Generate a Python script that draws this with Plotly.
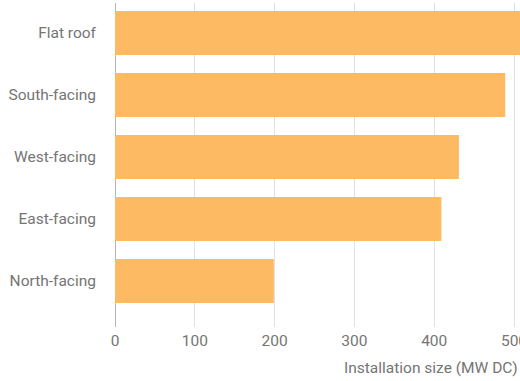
import plotly.graph_objects as go

categories = ["Flat roof", "South-facing", "West-facing", "East-facing", "North-facing"]
values = [530, 489, 431, 409, 199]
x_ticks = [0, 100, 200, 300, 400, 500]

fig = go.Figure(go.Bar(
    x=values, y=categories, orientation="h",
    marker=dict(color="#FDBA63", line=dict(width=0)),
    hoverinfo="x+y",
))

font = dict(family="Roboto, Arial, sans-serif", size=15.5, color="#757575")

fig.update_layout(
    width=520, height=381,
    margin=dict(l=115, r=0, t=3, b=54, autoexpand=False),
    paper_bgcolor="white", plot_bgcolor="white",
    bargap=0.29,
    showlegend=False,
    font=font,
    xaxis=dict(
        range=[0, 507.5], tickvals=x_ticks, showgrid=True, gridcolor="#e0e0e0",
        gridwidth=1, zeroline=True, zerolinecolor="#b5b5b5", zerolinewidth=1,
        showline=False, ticks="", tickfont=font, fixedrange=True,
        ticklabeloverflow="allow", ticklabelstandoff=2, automargin=False,
    ),
    yaxis=dict(
        type="category", categoryorder="array", categoryarray=categories,
        range=[4.742, -0.484], showgrid=False, zeroline=False, showline=False,
        ticks="", ticklabelstandoff=18, tickfont=font, fixedrange=True,
        automargin=False,
    ),
    annotations=[dict(
        text="Installation size (MW DC)", xref="paper", yref="paper",
        x=1.0, y=0, xanchor="right", yanchor="middle", yshift=-41,
        showarrow=False, font=font,
    )],
)

fig.write_html("out.html")
